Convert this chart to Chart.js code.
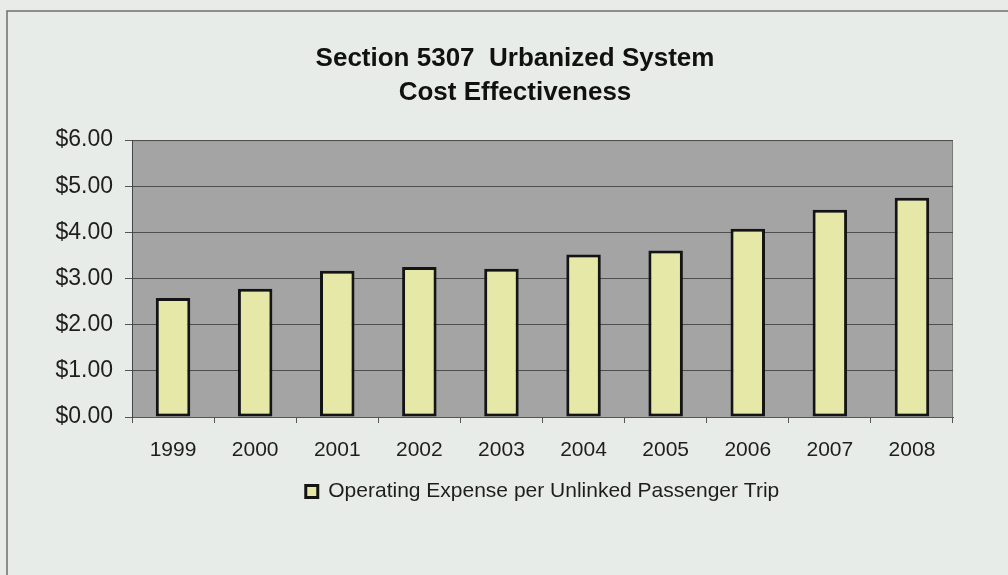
<!DOCTYPE html>
<html>
<head>
<meta charset="utf-8">
<script src="https://cdn.jsdelivr.net/npm/chart.js@4/dist/chart.umd.min.js"></script>
<style>
  html, body { margin: 0; padding: 0; background: #e8ece8; }
  #wrap { width: 1008px; height: 575px; position: relative; }
</style>
</head>
<body>
<div id="wrap"><canvas id="myChart"></canvas></div>
<script>
// data
const years = ['1999', '2000', '2001', '2002', '2003', '2004', '2005', '2006', '2007', '2008'];
const costPerTrip = [2.58, 2.78, 3.17, 3.25, 3.21, 3.52, 3.61, 4.08, 4.49, 4.75];
const yTickLabels = ['$0.00', '$1.00', '$2.00', '$3.00', '$4.00', '$5.00', '$6.00'];
const seriesName = 'Operating Expense per Unlinked Passenger Trip';
const titleLines = ['Section 5307  Urbanized System', 'Cost Effectiveness'];

// background, frame and grey plot area
const backdrop = {
    id: 'backdrop',
    beforeDraw(chart) {
        const c = chart.ctx;
        const a = chart.chartArea;
        c.save();
        c.fillStyle = '#e8ece8';
        c.fillRect(0, 0, chart.width, chart.height);
        c.strokeStyle = '#6e6e6e';
        c.lineWidth = 1.5;
        c.beginPath();
        c.moveTo(7, chart.height);
        c.lineTo(7, 11);
        c.lineTo(chart.width, 11);
        c.stroke();
        c.fillStyle = '#a4a4a4';
        c.fillRect(a.left, a.top, a.right - a.left, a.bottom - a.top);
        c.strokeStyle = '#7a7a7a';
        c.lineWidth = 1;
        c.strokeRect(a.left + 0.5, a.top + 0.5, a.right - a.left - 1, a.bottom - a.top);
        c.restore();
    }
};

const ctx = document.getElementById('myChart').getContext('2d');

const myChart = new Chart(ctx, {
    type: 'bar',
    data: {
        labels: years,
        datasets: [{
            label: seriesName,
            data: costPerTrip,
            backgroundColor: '#e6e8a8',
            borderColor: '#141414',
            borderWidth: 3,
            borderSkipped: false,
            barPercentage: 0.42,
            categoryPercentage: 1.0
        }]
    },
    options: {
        responsive: true,
        maintainAspectRatio: false,
        animation: false,
        layout: {
            padding: { left: 30, right: 8, top: 0, bottom: 63 }
        },
        scales: {
            x: {
                afterFit: function (scale) { scale.height = 54; },
                grid: {
                    display: true,
                    drawOnChartArea: false,
                    drawTicks: true,
                    tickLength: 6,
                    color: '#555555'
                },
                border: { display: true, color: '#555555' },
                ticks: {
                    padding: 15,
                    color: '#1e1e1e',
                    font: { family: 'Liberation Sans, Arial, sans-serif', size: 21 }
                }
            },
            y: {
                min: 0,
                max: 6,
                afterFit: function (scale) { scale.width = 102; },
                grid: {
                    color: '#4e4e4e',
                    lineWidth: 1,
                    tickLength: 7,
                    tickColor: '#555555'
                },
                border: { display: true, color: '#444444' },
                ticks: {
                    stepSize: 1,
                    padding: 12,
                    color: '#1e1e1e',
                    font: { family: 'Liberation Sans, Arial, sans-serif', size: 23 },
                    callback: function (value, index) { return yTickLabels[index]; }
                }
            },
            // empty right-hand margin so the title stays centred like the original
            spacer: {
                position: 'right',
                display: true,
                afterFit: function (scale) { scale.width = 47; },
                grid: { display: false },
                border: { display: false },
                ticks: { display: false }
            }
        },
        plugins: {
            title: {
                display: true,
                text: titleLines,
                color: '#111111',
                font: { family: 'Liberation Sans, Arial, sans-serif', size: 26, weight: 'bold', lineHeight: 1.31 },
                padding: { top: 42, bottom: 30 }
            },
            legend: {
                display: true,
                position: 'bottom',
                fullSize: false,
                labels: {
                    boxWidth: 12,
                    boxHeight: 12,
                    padding: 10,
                    color: '#1e1e1e',
                    font: { family: 'Liberation Sans, Arial, sans-serif', size: 21 }
                }
            },
            tooltip: { enabled: false }
        }
    },
    plugins: [backdrop]
});
</script>
</body>
</html>
